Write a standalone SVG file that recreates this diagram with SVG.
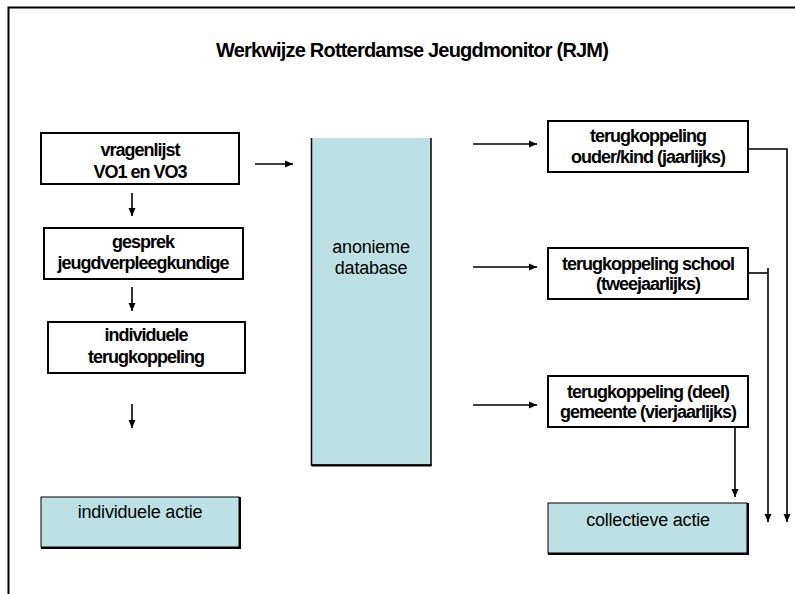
<svg xmlns="http://www.w3.org/2000/svg" width="795" height="594" viewBox="0 0 795 594">
<defs>
<style>
.bx{fill:#ffffff;stroke:#000;stroke-width:2}
.bl{fill:#BCE0E3;stroke:#000;stroke-width:1}
.sh{fill:none;stroke:#000;stroke-width:2}
.t{font-family:"Liberation Sans",Arial,sans-serif;font-weight:bold;font-size:18px;letter-spacing:-1px;text-anchor:middle;fill:#000}
.r{font-family:"Liberation Sans",Arial,sans-serif;font-size:18px;letter-spacing:-0.2px;text-anchor:middle;fill:#000}
.c{fill:none;stroke:#000;stroke-width:1.6}
</style>
<marker id="ah" markerUnits="userSpaceOnUse" markerWidth="10" markerHeight="8" refX="8" refY="4" orient="auto">
<path d="M0,0.5 L8,4 L0,7.5 z" fill="#000"/>
</marker>
</defs>
<rect width="795" height="594" fill="#fff"/>
<path d="M8.5,594 V7.5 H795" fill="none" stroke="#000" stroke-width="2"/>
<text x="412" y="57" style="font-family:'Liberation Sans',Arial,sans-serif;font-weight:bold;font-size:20px;letter-spacing:-0.8px;text-anchor:middle">Werkwijze Rotterdamse Jeugdmonitor (RJM)</text>

<g id="vragenlijst">
<rect class="bx" x="41" y="133" width="198" height="51"/>
<text class="t" x="140" y="156">vragenlijst</text>
<text class="t" x="140" y="178">VO1 en VO3</text>
</g>
<g id="gesprek">
<rect class="bx" x="44" y="228" width="199" height="51"/>
<text class="t" x="143" y="248">gesprek</text>
<text class="t" x="143" y="269">jeugdverpleegkundige</text>
</g>
<g id="individuele-terugkoppeling">
<rect class="bx" x="48" y="322" width="197" height="51"/>
<text class="t" x="146" y="341">individuele</text>
<text class="t" x="146" y="363">terugkoppeling</text>
</g>
<g id="individuele-actie">
<rect class="bl" x="41" y="497" width="198" height="50"/>
<path class="sh" d="M41,548 H240 V497"/>
<text class="r" x="140" y="518">individuele actie</text>
</g>
<g id="database">
<rect x="311.5" y="138" width="119.5" height="327" fill="#BCE0E3"/>
<path d="M311.5,138 V465 H431 V138" fill="none" stroke="#000" stroke-width="1.5"/>
<path d="M311.5,465.5 H431.5" stroke="#000" stroke-width="2"/>
<text class="r" x="371" y="253">anonieme</text>
<text class="r" x="371" y="274">database</text>
</g>
<g id="ouder-kind">
<rect class="bx" x="548" y="121" width="200" height="51"/>
<text class="t" x="648" y="142">terugkoppeling</text>
<text class="t" x="648" y="163">ouder/kind (jaarlijks)</text>
</g>
<g id="school">
<rect class="bx" x="548" y="248" width="200" height="51"/>
<text class="t" x="648" y="270">terugkoppeling school</text>
<text class="t" x="648" y="290">(tweejaarlijks)</text>
</g>
<g id="gemeente">
<rect class="bx" x="548" y="376" width="200" height="51"/>
<text class="t" x="648" y="398">terugkoppeling (deel)</text>
<text class="t" x="648" y="418">gemeente (vierjaarlijks)</text>
</g>
<g id="collectieve-actie">
<rect class="bl" x="548" y="503" width="199" height="50"/>
<path class="sh" d="M548,554 H748 V503"/>
<text class="r" x="648" y="526">collectieve actie</text>
</g>

<g id="connectors">
<line class="c" x1="132" y1="193" x2="132" y2="216" marker-end="url(#ah)"/>
<line class="c" x1="132" y1="287" x2="132" y2="311" marker-end="url(#ah)"/>
<line class="c" x1="132" y1="404" x2="132" y2="428" marker-end="url(#ah)"/>
<line class="c" x1="255" y1="164" x2="293" y2="164" marker-end="url(#ah)"/>
<line class="c" x1="473" y1="144" x2="537" y2="144" marker-end="url(#ah)"/>
<line class="c" x1="473" y1="267" x2="537" y2="267" marker-end="url(#ah)"/>
<line class="c" x1="473" y1="405" x2="537" y2="405" marker-end="url(#ah)"/>
<polyline class="c" points="748,149 787,149 787,522" marker-end="url(#ah)"/>
<line class="c" x1="748" y1="273" x2="768" y2="273"/>
<line class="c" x1="768" y1="268" x2="768" y2="522" marker-end="url(#ah)"/>
<line class="c" x1="735" y1="427" x2="735" y2="497" marker-end="url(#ah)"/>
</g>
</svg>
